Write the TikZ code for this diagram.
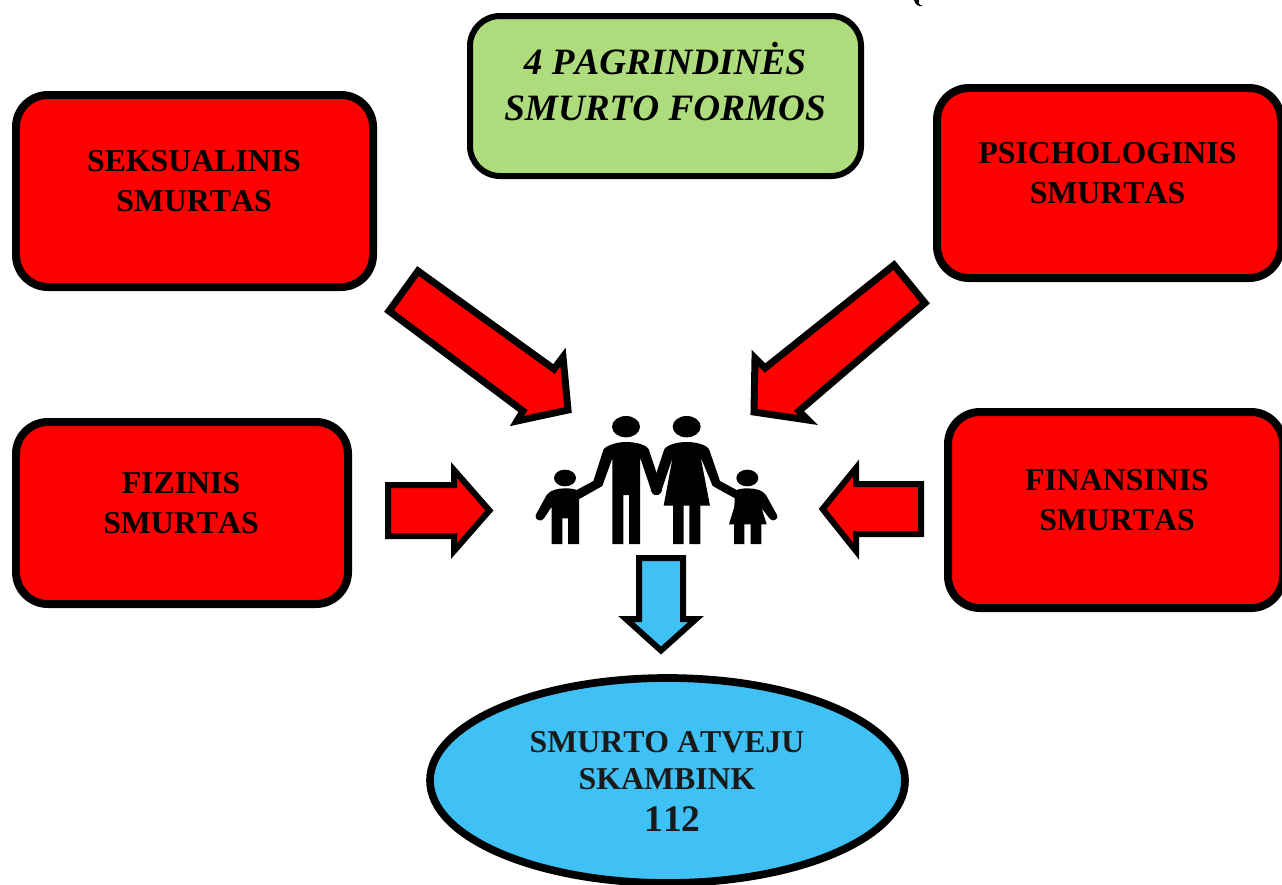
\documentclass[tikz,border=0pt]{standalone}
\usepackage{fontspec}
\setmainfont[Kerning=Off]{Liberation Serif}
\usetikzlibrary{shapes.geometric}
\definecolor{redfill}{HTML}{FF0000}
\definecolor{greenfill}{HTML}{AEDC7C}
\definecolor{bluefill}{HTML}{3FC1F5}
\definecolor{darktext}{HTML}{1A1A1A}
\tikzset{
  formbox/.style={draw=black,line width=8pt,fill=redfill,rounded corners=32pt,inner sep=0pt,outer sep=0pt},
  titlebox/.style={draw=black,line width=6pt,fill=greenfill,rounded corners=30pt,inner sep=0pt,outer sep=0pt},
  callbox/.style={ellipse,draw=black,line width=7.7pt,fill=bluefill,inner sep=0pt,outer sep=0pt},
  boxtext/.style={align=center,inner sep=0pt,font=\fontsize{31.8pt}{39.5pt}\selectfont\bfseries},
  titletext/.style={align=center,inner sep=0pt,font=\fontsize{37.2pt}{46pt}\selectfont\bfseries\itshape},
  redarrow/.style={draw=black,line width=6pt,fill=redfill,miter limit=10,line join=miter},
  bluearrow/.style={draw=black,line width=6pt,fill=bluefill,miter limit=10,line join=miter},
  figure/.style={fill=black,draw=none}
}
\begin{document}
\begin{tikzpicture}[x=1pt,y=-1pt]
\useasboundingbox (0,0) rectangle (1282,884);
% boxes
\node[formbox,minimum width=357pt,minimum height=192pt] (sek) at (194.5,191) {};
\node[titlebox,minimum width=391pt,minimum height=160pt] (title) at (665.5,96) {};
\node[formbox,minimum width=344pt,minimum height=190pt] (psi) at (1109,183) {};
\node[formbox,minimum width=332pt,minimum height=182pt] (fiz) at (182,513) {};
\node[formbox,minimum width=335pt,minimum height=196pt] (fin) at (1115.5,510) {};
\node[callbox,minimum width=475pt,minimum height=205pt] (call) at (667.5,780.5) {};
% labels
\node[boxtext] (sekt) at (194,181) {SEKSUALINIS\\SMURTAS};
\node[titletext] (titlet) at (665,82) {4 PAGRINDINĖS\\SMURTO FORMOS};
\node[boxtext] (psit) at (1107.5,173) {PSICHOLOGINIS\\SMURTAS};
\node[boxtext] (fizt) at (181,503) {FIZINIS\\SMURTAS};
\node[boxtext] (fint) at (1117,500) {FINANSINIS\\SMURTAS};
\node[boxtext,text=darktext,font=\fontsize{31.8pt}{37pt}\selectfont\bfseries] (callt) at (667,761) {SMURTO ATVEJU\\SKAMBINK};
\node[inner sep=0pt,text=darktext,font=\fontsize{37.5pt}{40pt}\selectfont\bfseries,anchor=base] (num) at (672.5,831.5) {112};
% block arrows
\draw[redarrow,line width=7pt] (418,271) -- (389,311) -- (523,411) -- (517,421) -- (568,410) -- (563,357) -- (554,369) -- cycle;
\draw[redarrow,line width=7pt] (894,265) -- (925,303) -- (799,411) -- (808,420) -- (754,412) -- (755,358) -- (765,368) -- cycle;
\draw[redarrow] (388,485) -- (454,485) -- (454,470) -- (489.5,510.5) -- (454,551) -- (454,536) -- (388,536) -- cycle;
\draw[redarrow] (921,484) -- (856,484) -- (856,468) -- (822.5,509) -- (856,551) -- (856,534) -- (921,534) -- cycle;
\draw[bluearrow] (639,558) -- (683,558) -- (683,619) -- (696,619) -- (661,650.5) -- (626,619) -- (639,619) -- cycle;
% family
\begin{scope}[shift={(520,400)},x=0.33333pt,y=-0.33333pt]
\fill[figure] (318,80) ellipse [x radius=42pt/3,y radius=32pt/3];
\fill[figure] (500,80) ellipse [x radius=42pt/3,y radius=32pt/3];
\fill[figure] (135,234) ellipse [x radius=33pt/3,y radius=25pt/3];
\fill[figure] (682,234) ellipse [x radius=33pt/3,y radius=25pt/3];
\fill[figure] (277,432) -- (277,175) -- (247,258) -- (178,297) -- (170,270) -- (220,243) -- (250,150)
  .. controls (253,140) and (285,126) .. (318,126) .. controls (350,126) and (382,135) .. (387,150)
  -- (425,265) .. controls (430,285) and (402,295) .. (395,275) -- (360,172) -- (360,432) -- (327,432)
  -- (327,285) -- (310,285) -- (310,432) -- cycle;
\fill[figure] (500,126) .. controls (530,126) and (562,135) .. (568,150) -- (600,243) -- (650,270)
  -- (645,295) -- (578,258) -- (542,172) -- (570,317) -- (541,317) -- (541,432) -- (508,432) -- (508,317)
  -- (491,317) -- (491,432) -- (459,432) -- (459,317) -- (431,317) -- (458,172) -- (425,270)
  .. controls (418,290) and (395,285) .. (392,270) -- (432,150) .. controls (438,135) and (470,126) .. (500,126) -- cycle;
\fill[figure] (135,265) .. controls (115,265) and (90,270) .. (80,285) -- (47,345)
  .. controls (42,360) and (65,368) .. (72,355) -- (95,320) -- (95,432) -- (127,432) -- (127,355) -- (144,355)
  -- (144,432) -- (177,432) -- (177,290) -- (170,270) .. controls (160,266) and (148,265) .. (135,265) -- cycle;
\fill[figure] (682,265) .. controls (665,265) and (652,268) .. (645,272) -- (643,320) -- (627,373) -- (642,373)
  -- (642,432) -- (673,432) -- (673,373) -- (692,373) -- (692,432) -- (724,432) -- (724,373) -- (740,373)
  -- (725,325) -- (750,357) .. controls (760,368) and (778,355) .. (771,345) -- (738,285)
  .. controls (728,270) and (705,265) .. (682,265) -- cycle;
\end{scope}
% stray mark at the top edge
\fill[figure] (914,0) .. controls (915,5) and (919,7) .. (923,6) .. controls (919,5) and (918,3) .. (919,0) -- cycle;
\end{tikzpicture}
\end{document}
